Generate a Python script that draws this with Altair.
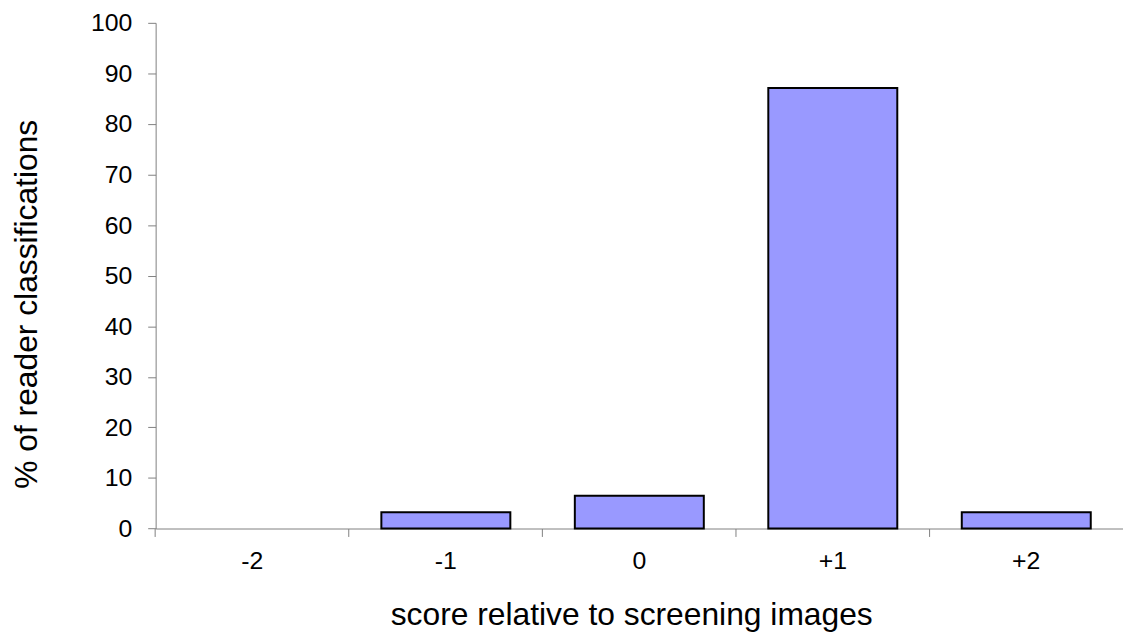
import altair as alt
import pandas as pd

categories = ["-2", "-1", "0", "+1", "+2"]
percent = [0.0, 3.2, 6.5, 87.1, 3.2]
y_ticks = [0, 10, 20, 30, 40, 50, 60, 70, 80, 90, 100]

df = pd.DataFrame({"score": categories, "pct": percent})

FONT = "Liberation Sans"
W = 974.3
H = 509.3

chart = (
    alt.Chart(df)
    .transform_filter(alt.datum.pct > 0)
    .mark_bar(color="#9999FF", stroke="#000000", strokeWidth=2)
    .encode(
        x=alt.X(
            "score:N",
            sort=categories,
            scale=alt.Scale(domain=categories, paddingInner=1 / 3, paddingOuter=1 / 6),
            axis=alt.Axis(
                title="score relative to screening images",
                labelAngle=0,
                labelFontSize=25,
                labelPadding=12,
                tickSize=8,
                bandPosition=-0.25,
                titleFontSize=32,
                titleFontWeight="normal",
                titleX=479,
                titleY=97,
                titleAlign="center",
                titleBaseline="alphabetic",
            ),
        ),
        y=alt.Y(
            "pct:Q",
            scale=alt.Scale(domain=[0, 100], nice=False),
            axis=alt.Axis(
                title="% of reader classifications",
                values=y_ticks,
                labelFontSize=25,
                labelPadding=16,
                tickSize=8,
                grid=False,
                titleFontSize=32,
                titleFontWeight="normal",
                titleX=-120,
                titleY=283,
                titleAlign="center",
                titleBaseline="alphabetic",
            ),
        ),
    )
    .properties(
        width=W,
        height=H,
        autosize="none",
        padding={"left": 148.7, "top": 12.7, "right": 0, "bottom": 104},
    )
    .configure_view(stroke=None)
    .configure_axis(
        domainColor="#808080",
        tickColor="#808080",
        domainWidth=1,
        tickWidth=1,
        labelColor="#000000",
        titleColor="#000000",
        labelFont=FONT,
        titleFont=FONT,
    )
)

chart.save("out.html", embed_options={"renderer": "svg", "actions": False})
